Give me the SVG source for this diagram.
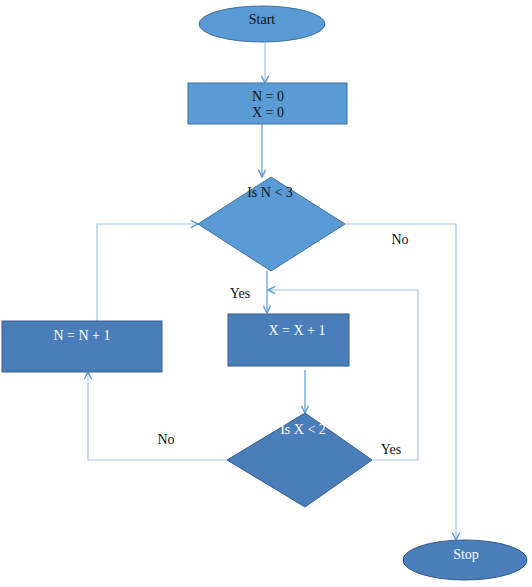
<svg xmlns="http://www.w3.org/2000/svg" width="532" height="587" viewBox="0 0 532 587">
<defs>
<style>
.t{font-family:"Liberation Serif","Times New Roman",serif;font-size:14px;text-anchor:middle}
.dk{fill:#111}
.wh{fill:#fff}
.light{fill:#5B9BD5;stroke:#41719C;stroke-width:1}
.dark{fill:#4A7EBB;stroke:#385D8A;stroke-width:1}
.c{fill:none;stroke-width:1.2}
.c1{stroke:#9DC3E6}
.c2{stroke:#5B9BD5}
.c3{stroke:#A9C4E8}
</style>
<marker id="ah" viewBox="0 0 10 10" refX="9" refY="5" markerWidth="9" markerHeight="9" orient="auto" markerUnits="userSpaceOnUse">
<path d="M1,1 L9,5 L1,9" fill="none" stroke="#5B9BD5" stroke-width="1.6"/>
</marker>
</defs>
<rect width="532" height="587" fill="#fff"/>
<g id="connectors">
<path class="c c1" d="M265,43 V83" marker-end="url(#ah)"/>
<path class="c c2" d="M262,124 V177" marker-end="url(#ah)"/>
<path class="c c1" d="M345,224 H456 V540" marker-end="url(#ah)"/>
<path class="c c2" d="M267,271 V313" marker-end="url(#ah)"/>
<path class="c c2" d="M305,370 V413" marker-end="url(#ah)"/>
<path class="c c3" d="M372,460 H418 V290 H268" marker-end="url(#ah)"/>
<path class="c c3" d="M227,460 H88 V372" marker-end="url(#ah)"/>
<path class="c c3" d="M97,321 V224 H198" marker-end="url(#ah)"/>
<text class="t dk" x="400" y="244">No</text>
<text class="t dk" x="240" y="298">Yes</text>
<text class="t dk" x="166" y="444">No</text>
<text class="t dk" x="391" y="454">Yes</text>
</g>
<g id="start">
<ellipse class="light" cx="262" cy="24" rx="63" ry="18"/>
<text class="t dk" x="262" y="24">Start</text>
</g>
<g id="init">
<rect class="light" x="188" y="83" width="159" height="41"/>
<text class="t dk" x="268" y="101">N = 0</text>
<text class="t dk" x="268" y="117">X = 0</text>
</g>
<g id="checkN">
<polygon class="light" points="271,177 345,224 271,271 198,224"/>
<text class="t dk" x="270" y="197">Is N &lt; 3</text>
</g>
<g id="incX">
<rect class="dark" x="228" y="314" width="121" height="52"/>
<text class="t wh" x="297" y="335">X = X + 1</text>
</g>
<g id="incN">
<rect class="dark" x="2" y="321" width="160" height="51"/>
<text class="t wh" x="82" y="340">N = N + 1</text>
</g>
<g id="checkX">
<polygon class="dark" points="305,413 372,460 305,507 227,460"/>
<text class="t wh" x="303" y="434">Is X &lt; 2</text>
</g>
<g id="stop">
<ellipse class="dark" cx="465" cy="560" rx="62" ry="20"/>
<text class="t wh" x="466" y="559">Stop</text>
</g>
</svg>
